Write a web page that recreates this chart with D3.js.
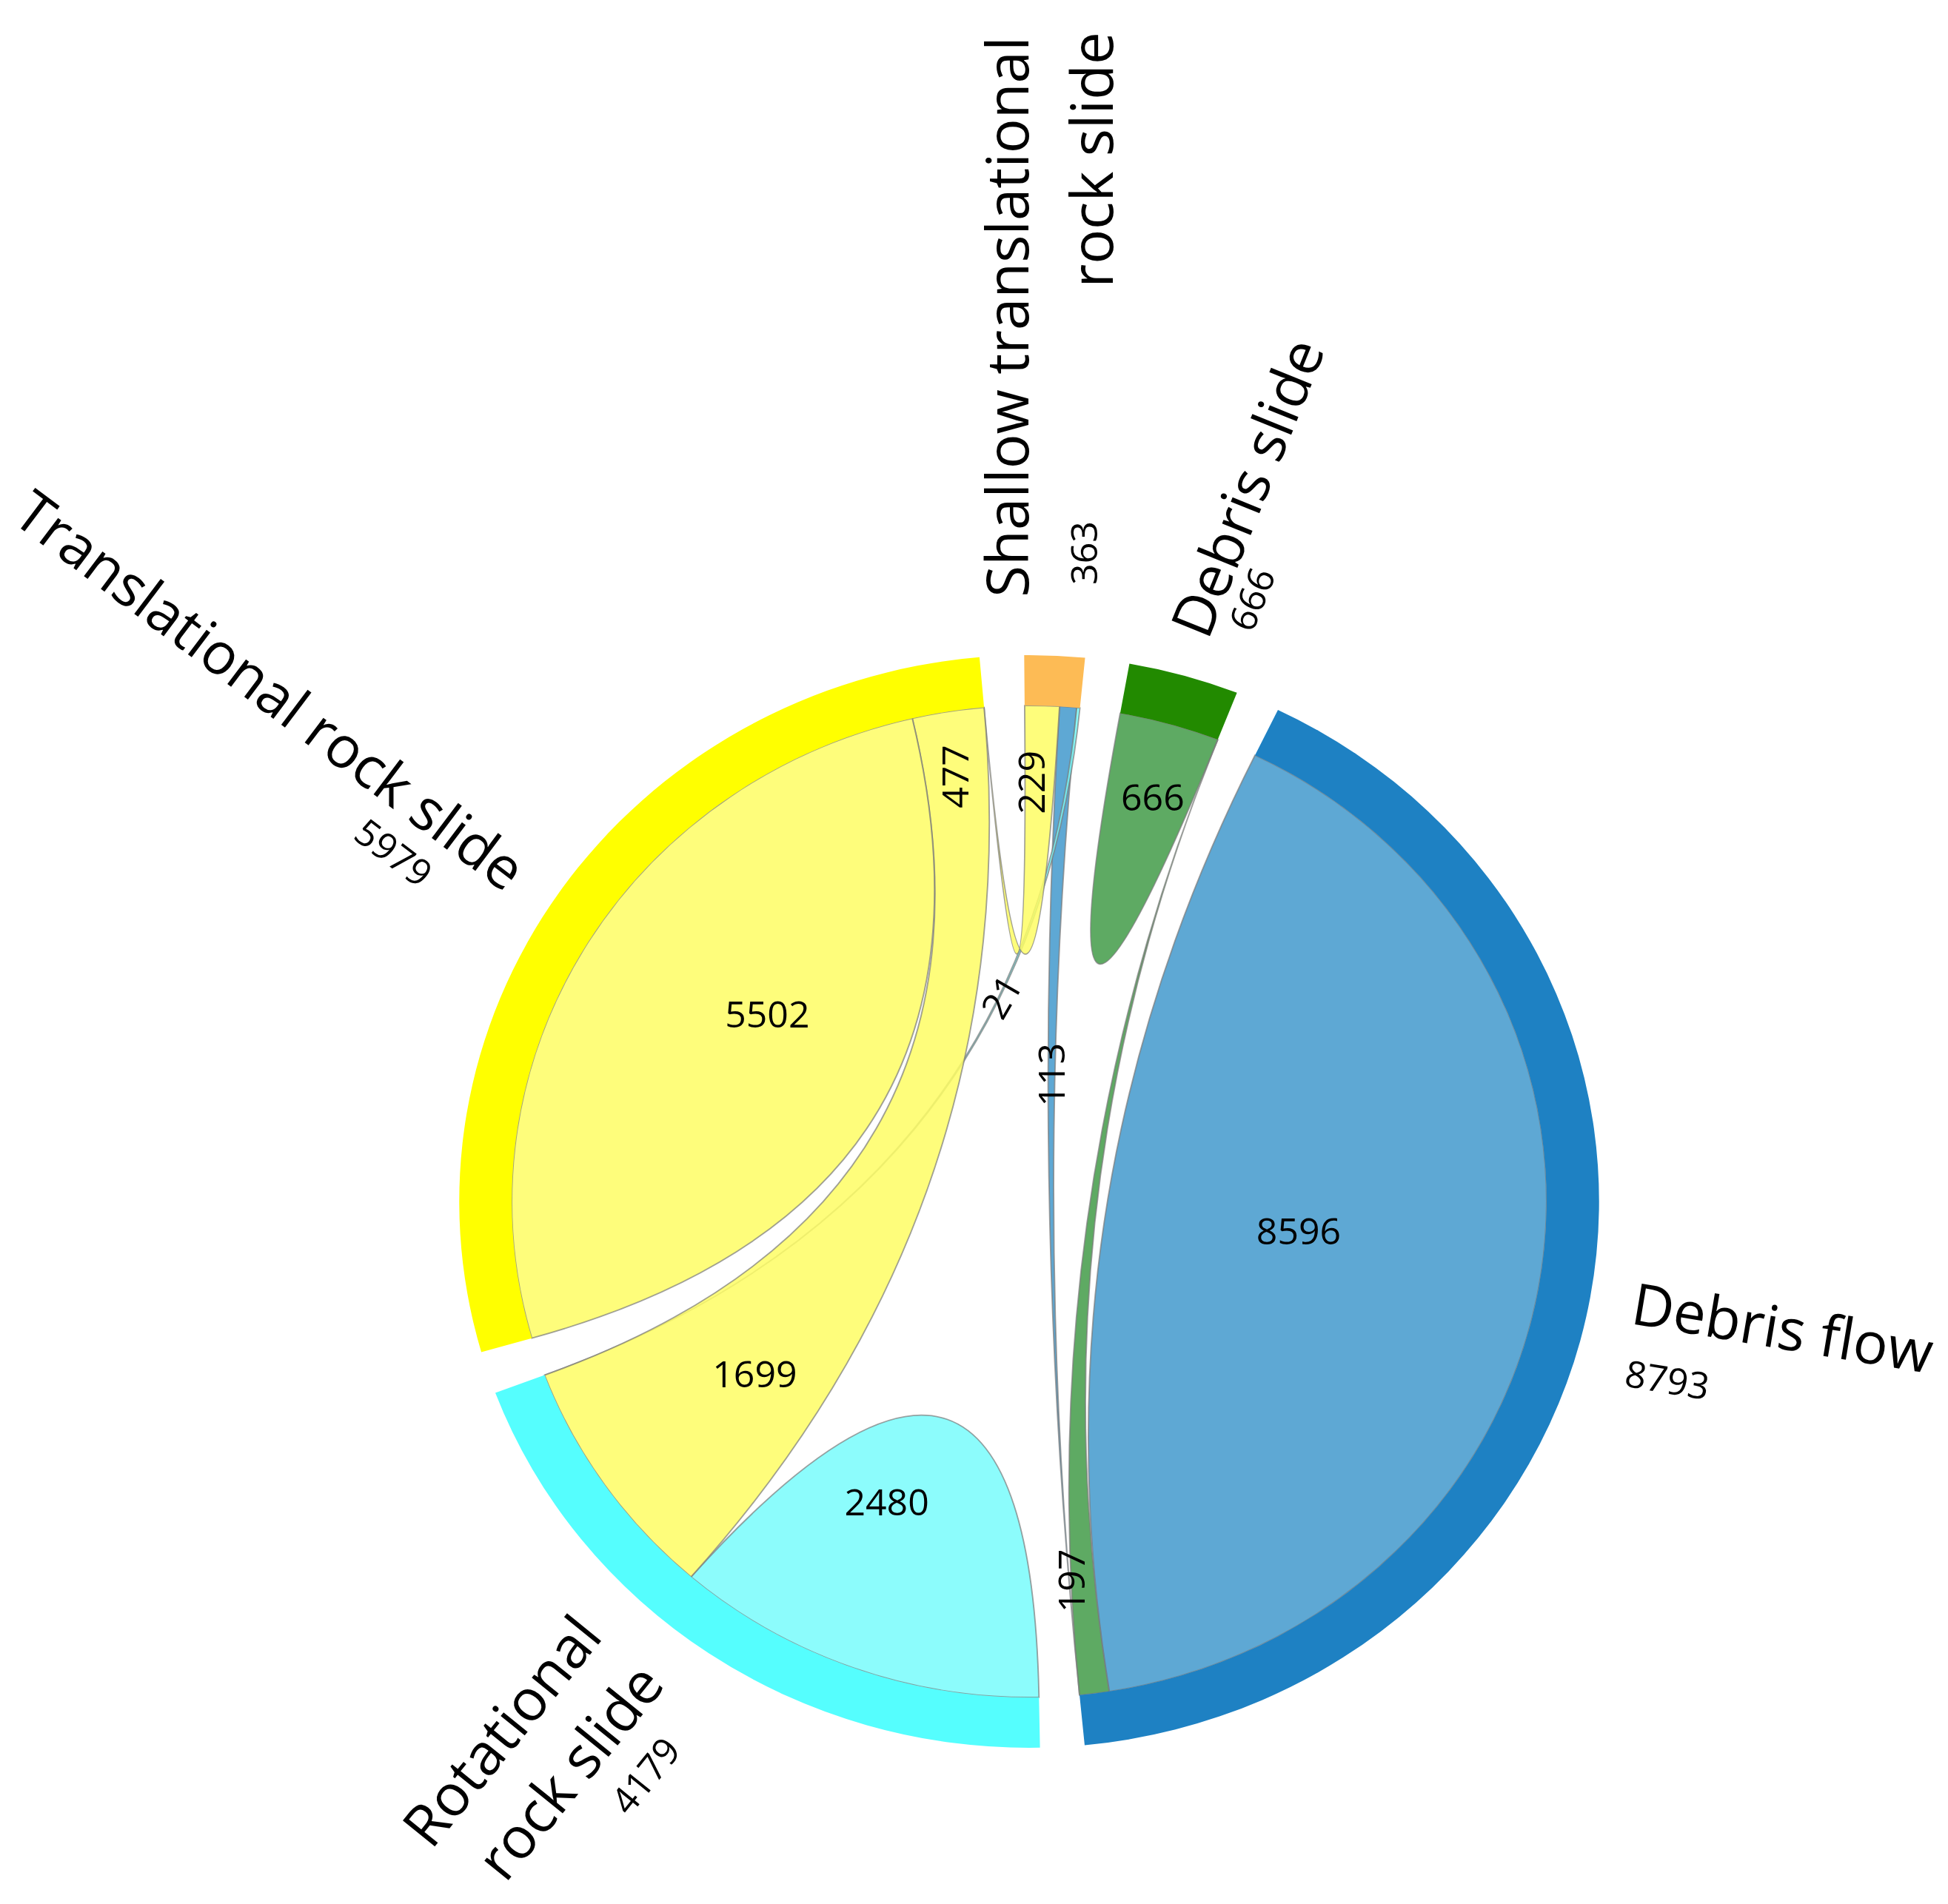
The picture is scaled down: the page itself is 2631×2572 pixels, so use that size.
<!DOCTYPE html>
<html>
<head>
<meta charset="utf-8">
<script src="https://cdn.jsdelivr.net/npm/d3@7"></script>
<style>
  html, body { margin: 0; padding: 0; background: #fff; }
  text { font-family: "Open Sans", "Liberation Sans", sans-serif; fill: #000; }
</style>
</head>
<body>
<svg id="chart" width="2631" height="2572"></svg>
<script>
// groups, clockwise from the top
var groupNames = ["Shallow translational rock slide", "Debris slide", "Debris flow", "Rotational rock slide", "Translational rock slide"];
var groupLines = [["Shallow translational", "rock slide"], ["Debris slide"], ["Debris flow"], ["Rotational", "rock slide"], ["Translational rock slide"]];

// row i = width of each chord end on group i, column j = the group it links to
var rowShallow       = [0, 0, 113, 21, 229];
var rowDebrisSlide   = [0, 666, 0, 0, 0];
var rowDebrisFlow    = [0, 197, 8596, 0, 0];
var rowRotational    = [0, 0, 0, 2480, 1699];
var rowTranslational = [0, 0, 0, 477, 5502];

// chord ends that carry a number: [group, partner]
var valueLabelEnds = [[4, 4], [4, 3], [0, 4], [1, 1], [0, 3], [0, 2], [2, 2], [3, 4], [3, 3], [2, 1]];

var matrix = [rowShallow, rowDebrisSlide, rowDebrisFlow, rowRotational, rowTranslational];

var arcColors    = ["#FDBB55", "#228A00", "#1E81C3", "#55FEFE", "#FFFF00"];
var ribbonColors = ["#FDD08F", "#429B48", "#4299CC", "#78FCFC", "#FEFD64"];

// ---- layout
var width = 2631, height = 2572;
var cx = 1390, cy = 1623, sx = 1.043;
var rIn = 670, rOut = 738;
var rot = -0.5 * Math.PI / 180;

// value label placement: angle (deg), radius as share of rIn, text rotation
var valueLabelPos = [
  {a: 306.8, r: 0.632, t: 0},
  {a: 350.4, r: 0.869, t: -90},
  {a: 0.2,   r: 0.845, t: -90},
  {a: 16.3,  r: 0.851, t: 0},
  {a: 352.5, r: 0.417, t: -60},
  {a: 9.35,  r: 0.259, t: -90},
  {a: 96.3,  r: 0.524, t: 0},
  {a: 236.9, r: 0.633, t: 0},
  {a: 204.5, r: 0.664, t: 0},
  {a: 174,   r: 0.769, t: -90}
];

// group name placement (pixel centres) for each line, then the total
var groupLabelPos = [
  {lines: [[1359, 428], [1473, 216]], total: [1463, 747], t: -90},
  {lines: [[1683, 658]], total: [1690, 809], t: -68},
  {lines: [[2408, 1792]], total: [2252, 1863], t: 9.5},
  {lines: [[676, 2337], [768, 2392]], total: [871, 2398], t: -51},
  {lines: [[366, 931]], total: [532, 1151], t: 37}
];

var svg = d3.select("#chart");
svg.append("rect").attr("width", width).attr("height", height).attr("fill", "#fff");

var chords = d3.chord()
  .padAngle(4.5 * Math.PI / 180)
  .sortSubgroups(d3.descending)(matrix);

var chart = svg.append("g")
  .attr("transform", "translate(" + cx + "," + cy + ") scale(" + sx + ",1)");

var ribbon = d3.ribbon()
  .radius(rIn)
  .startAngle(function(d) { return d.startAngle + rot; })
  .endAngle(function(d) { return d.endAngle + rot; });

var arc = d3.arc()
  .innerRadius(rIn)
  .outerRadius(rOut)
  .startAngle(function(d) { return d.startAngle + rot; })
  .endAngle(function(d) { return d.endAngle + rot; });

//========= ribbons
chart.append("g")
  .selectAll("path")
  .data(chords)
  .join("path")
    .attr("d", ribbon)
    .attr("fill", function(d) { return ribbonColors[d.target.index]; })
    .attr("fill-opacity", 0.85)
    .attr("stroke", "#7a7a7a")
    .attr("stroke-opacity", 0.7)
    .attr("stroke-width", 1.8);

//========= outer ring
chart.append("g")
  .selectAll("path")
  .data(chords.groups)
  .join("path")
    .attr("d", arc)
    .attr("fill", function(d) { return arcColors[d.index]; });

//========= chord numbers
function polar(aDeg, r) {
  var a = aDeg * Math.PI / 180;
  return [cx + sx * r * Math.sin(a), cy - r * Math.cos(a)];
}

var vl = svg.append("g");
valueLabelEnds.forEach(function(e, k) {
  var p = valueLabelPos[k];
  var xy = polar(p.a, p.r * rIn);
  vl.append("text")
    .attr("transform", "translate(" + xy[0] + "," + xy[1] + ") rotate(" + p.t + ")")
    .attr("text-anchor", "middle")
    .attr("dominant-baseline", "central")
    .style("font-size", "50px")
    .text(matrix[e[0]][e[1]]);
});

//========= group names and totals
var gl = svg.append("g");
chords.groups.forEach(function(grp) {
  var p = groupLabelPos[grp.index];
  groupLines[grp.index].forEach(function(line, li) {
    var xy = p.lines[li];
    gl.append("text")
      .attr("transform", "translate(" + xy[0] + "," + xy[1] + ") rotate(" + p.t + ")")
      .attr("text-anchor", "middle")
      .attr("dominant-baseline", "central")
      .style("font-size", "78px")
      .text(line);
  });
  gl.append("text")
    .attr("transform", "translate(" + p.total[0] + "," + p.total[1] + ") rotate(" + p.t + ")")
    .attr("text-anchor", "middle")
    .attr("dominant-baseline", "central")
    .style("font-size", "50px")
    .text(grp.value);
});
</script>
</body>
</html>
